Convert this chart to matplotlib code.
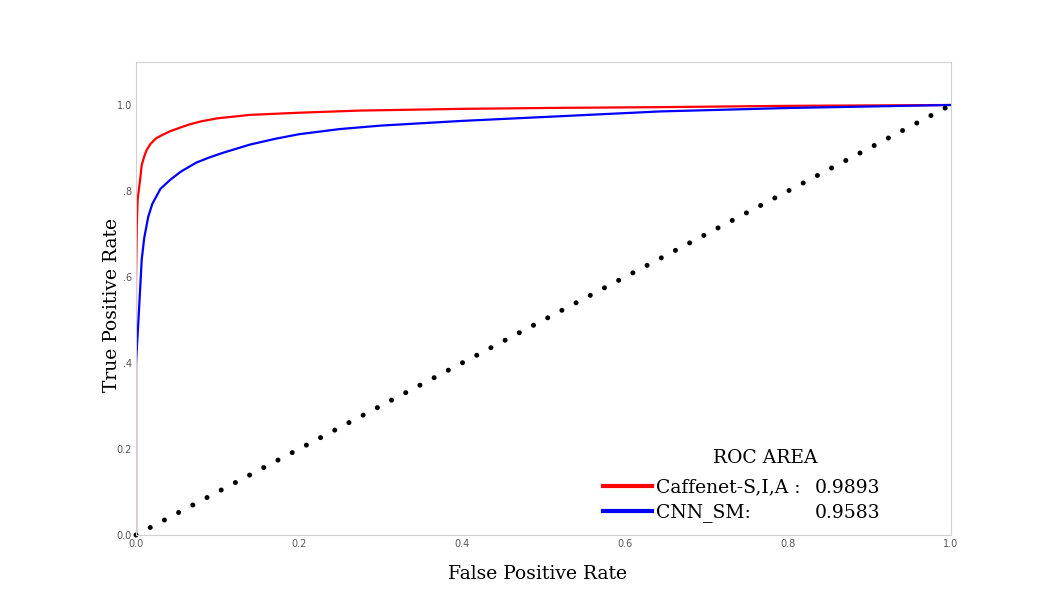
import numpy as np
import matplotlib
matplotlib.use("Agg")
import matplotlib.pyplot as plt

# ROC curves
fpr_caffenet = [0, 0, 0.001, 0.002, 0.005, 0.007, 0.01, 0.013, 0.018, 0.025, 0.033, 0.042,
                0.055, 0.066, 0.08, 0.1, 0.14, 0.2, 0.275, 0.4, 0.5, 0.643, 0.8, 1.0]
tpr_caffenet = [0, 0.59, 0.72, 0.78, 0.826, 0.86, 0.88, 0.895, 0.91, 0.923, 0.931, 0.939,
                0.948, 0.955, 0.962, 0.969, 0.977, 0.982, 0.987, 0.991, 0.993, 0.995, 0.998, 1.0]

fpr_cnn = [0, 0, 0.003, 0.005, 0.007, 0.01, 0.015, 0.02, 0.03, 0.042, 0.055, 0.074, 0.09,
           0.107, 0.14, 0.17, 0.2, 0.25, 0.3, 0.4, 0.5, 0.643, 0.8, 1.0]
tpr_cnn = [0, 0.40, 0.50, 0.57, 0.64, 0.69, 0.74, 0.77, 0.805, 0.826, 0.845, 0.866, 0.878,
           0.889, 0.908, 0.921, 0.932, 0.944, 0.952, 0.963, 0.972, 0.985, 0.993, 1.0]

names = ["Caffenet-S,I,A :", "CNN_SM:"]
areas = ["0.9893", "0.9583"]

xticks = [0.0, 0.2, 0.4, 0.6, 0.8, 1.0]
xticklabels = ["0.0", "0.2", "0.4", "0.6", "0.8", "1.0"]
yticks = [0.0, 0.2, 0.4, 0.6, 0.8, 1.0]
yticklabels = ["0.0", "0.2", ".4", ".6", ".8", "1.0"]

serif = "DejaVu Serif"
fs = 13.5

fig = plt.figure(figsize=(10.43, 5.92), dpi=100)
ax = fig.add_axes([0.1304, 0.0963, 0.7814, 0.7990])

ax.plot(fpr_caffenet, tpr_caffenet, color="red", lw=1.6, label=names[0])
ax.plot(fpr_cnn, tpr_cnn, color="blue", lw=1.6, label=names[1])
ax.plot([0, 1], [0, 1], color="black", lw=3.6, linestyle=(0, (0.01, 3.2)),
        dash_capstyle="round", clip_on=False)

ax.set_xlim(0, 1)
ax.set_ylim(0, 1.1)
ax.set_xticks(xticks)
ax.set_xticklabels(xticklabels)
ax.set_yticks(yticks)
ax.set_yticklabels(yticklabels)
ax.tick_params(length=0, labelsize=7, labelcolor="#555555", pad=3)
for s in ax.spines.values():
    s.set_color("#d0d0d0")

ax.set_xlabel("False Positive Rate", fontsize=fs, family=serif)
ax.xaxis.set_label_coords(0.493, -0.063)
ax.set_ylabel("True Positive Rate", fontsize=fs, family=serif)
ax.yaxis.set_label_coords(-0.018, 0.486)

leg = ax.legend(loc="center left", bbox_to_anchor=(0.573, 0.073), frameon=False,
                handlelength=2.6, handletextpad=0.2, borderpad=0, borderaxespad=0,
                labelspacing=0.35, prop={"family": serif, "size": fs})
for line in leg.get_lines():
    line.set_linewidth(3)

ax.text(0.772, 0.163, "ROC AREA", transform=ax.transAxes, ha="center",
        va="center", fontsize=fs, family=serif)
for i, a in enumerate(areas):
    ax.text(0.913, 0.0994 - i * 0.0529, a, transform=ax.transAxes, ha="right",
            va="center", fontsize=fs, family=serif)

fig.savefig("out.png", dpi=100)
